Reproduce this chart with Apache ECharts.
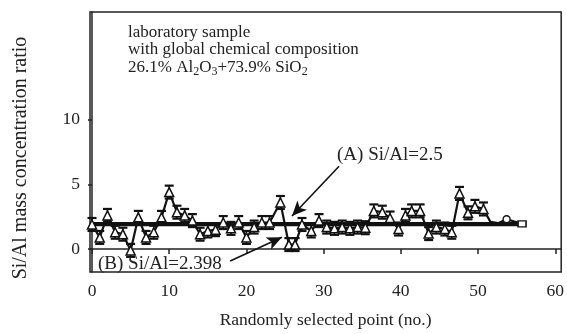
<!DOCTYPE html>
<html><head><meta charset="utf-8">
<script src="https://cdn.jsdelivr.net/npm/echarts@6/dist/echarts.min.js"></script>
<style>html,body{margin:0;padding:0;background:#fff}#c{width:567px;height:334px}</style>
</head><body><div id="c"></div>
<script>
// Measured points (point number, Si/Al ratio)
const pointNo = [0,1,2,3,4,5,6,7,8,9,10,11,12,13,14,15,16,17,18,19,20,21,22,23,24.4,25.5,26.3,27.2,28.4,29.4,30.4,31.4,32.4,33.4,34.4,35.4,36.5,37.6,38.6,39.7,40.6,41.4,42.5,43.6,44.6,45.7,46.6,47.6,48.7,49.6,50.7];
const ratio   = [1.9,0.9,2.6,1.3,1.15,-0.1,2.45,0.9,1.3,2.45,4.4,2.85,2.6,2.2,1.15,1.4,1.5,2.05,1.6,2.05,0.9,1.7,2.05,2.05,3.6,0.35,0.35,1.9,1.4,2.2,1.7,1.6,1.7,1.6,1.7,1.65,2.95,2.85,2.4,1.55,2.6,2.95,2.95,1.2,1.7,1.55,1.3,4.3,2.8,3.3,3.1];
const tailNo    = [50.7,51.6,52.6,53.7,55.7];
const tailRatio = [3.1,2.1,2.0,2.3,1.95];
const errHalf = 0.5;
const lineA = 2.0, lineB = 1.85;
const lineStart = 0, lineEnd = 56;
const xTicks = [0,10,20,30,40,50,60];
const yTicks = [0,5,10];
const arrowA = [[32.0,6.4],[25.9,2.55]];
const arrowB = [[17.9,-0.92],[24.6,0.92]];

const FONT = '"Liberation Serif","DejaVu Serif",serif';
const mainData = pointNo.map((x,i)=>[x, ratio[i]]);
const errData = pointNo.map((x,i)=>[x, ratio[i], errHalf]);
const tailData = tailNo.map((x,i)=>{
  const d = {value:[x, tailRatio[i]], symbol:'none'};
  if (i === 3) { d.symbol = 'circle'; d.symbolSize = 7; }
  if (i === tailNo.length-1) { d.symbol = 'rect'; d.symbolSize = [8,6]; }
  return d;
});

const chart = echarts.init(document.getElementById('c'), null, {renderer:'canvas'});
chart.setOption({
  animation:false,
  backgroundColor:'#fff',
  grid:{left:90, right:4, top:12, bottom:61, show:true, borderColor:'#222', borderWidth:1.5, backgroundColor:'transparent'},
  xAxis:{
    type:'value', min:-0.26, max:60.77,
    name:'Randomly selected point (no.)', nameLocation:'middle', nameGap:39,
    nameTextStyle:{fontFamily:FONT, fontSize:17.5, color:'#222'},
    axisLine:{show:true, lineStyle:{color:'#222', width:1.5}},
    axisTick:{show:true, customValues:xTicks, length:5, lineStyle:{color:'#222', width:1.5}},
    axisLabel:{customValues:xTicks, fontFamily:FONT, fontSize:17.5, color:'#222', margin:10},
    splitLine:{show:false}
  },
  yAxis:{
    type:'value', min:-1.77, max:18.31,
    axisLine:{show:true, lineStyle:{color:'#222', width:1.5}},
    axisTick:{show:true, customValues:yTicks, length:4, lineStyle:{color:'#222', width:1.5}},
    axisLabel:{customValues:yTicks, fontFamily:FONT, fontSize:17.5, color:'#222', margin:10},
    splitLine:{show:false}
  },
  series:[
    {type:'line', data:[[lineStart,lineA],[lineEnd,lineA]], symbol:'none', lineStyle:{color:'#111', width:2.4}, z:2,
     markLine:{silent:true, symbol:['none','arrow'], symbolSize:[10,15], label:{show:false},
       lineStyle:{color:'#111', width:1.6, type:'solid'},
       data:[[{coord:arrowA[0]},{coord:arrowA[1]}],[{coord:arrowB[0]},{coord:arrowB[1]}]]}},
    {type:'line', data:[[lineStart,lineB],[lineEnd,lineB]], symbol:'none', lineStyle:{color:'#111', width:2.4}, z:2},
    {type:'custom', data:errData, z:3,
     renderItem:function(params, api){
       const x=api.value(0), y=api.value(1), e=api.value(2);
       const t=api.coord([x,y+e]), b=api.coord([x,y-e]);
       const w=4.5;
       return {type:'group', children:[
         {type:'line', shape:{x1:t[0],y1:t[1],x2:b[0],y2:b[1]}, style:{stroke:'#111', lineWidth:1.6}},
         {type:'line', shape:{x1:t[0]-w,y1:t[1],x2:t[0]+w,y2:t[1]}, style:{stroke:'#111', lineWidth:2.2}},
         {type:'line', shape:{x1:b[0]-w,y1:b[1],x2:b[0]+w,y2:b[1]}, style:{stroke:'#111', lineWidth:2.2}}
       ]};
     }},
    {type:'line', data:tailData, lineStyle:{color:'#111', width:2.2}, itemStyle:{color:'#fff', borderColor:'#111', borderWidth:1.4}, z:4},
    {type:'line', data:mainData, symbol:'triangle', symbolSize:9, showAllSymbol:true,
     lineStyle:{color:'#111', width:2.2}, itemStyle:{color:'#fff', borderColor:'#111', borderWidth:1.5}, z:5}
  ],
  graphic:[
    {type:'text', x:21, y:158, rotation:Math.PI/2, style:{text:'Si/Al mass concentration ratio', font:'20px '+FONT, fill:'#222', align:'center', verticalAlign:'middle'}},
    {type:'text', x:128, y:33, style:{text:'laboratory sample', font:'17px '+FONT, fill:'#222', verticalAlign:'middle'}},
    {type:'text', x:128, y:50, style:{text:'with global chemical composition', font:'17px '+FONT, fill:'#222', verticalAlign:'middle'}},
    {type:'text', x:128, y:57, style:{
      text:'26.1% Al{s|2}O{s|3}+73.9% SiO{s|2}', font:'17px '+FONT, fill:'#222', lineHeight:21, verticalAlign:'top',
      rich:{s:{fontSize:12, fontFamily:FONT, verticalAlign:'bottom', fill:'#222'}}}},
    {type:'text', x:337, y:155, style:{text:'(A) Si/Al=2.5', font:'19px '+FONT, fill:'#222', verticalAlign:'middle'}},
    {type:'text', x:98, y:264, style:{text:'(B) Si/Al=2.398', font:'19px '+FONT, fill:'#222', verticalAlign:'middle'}}
  ]
});
</script></body></html>
